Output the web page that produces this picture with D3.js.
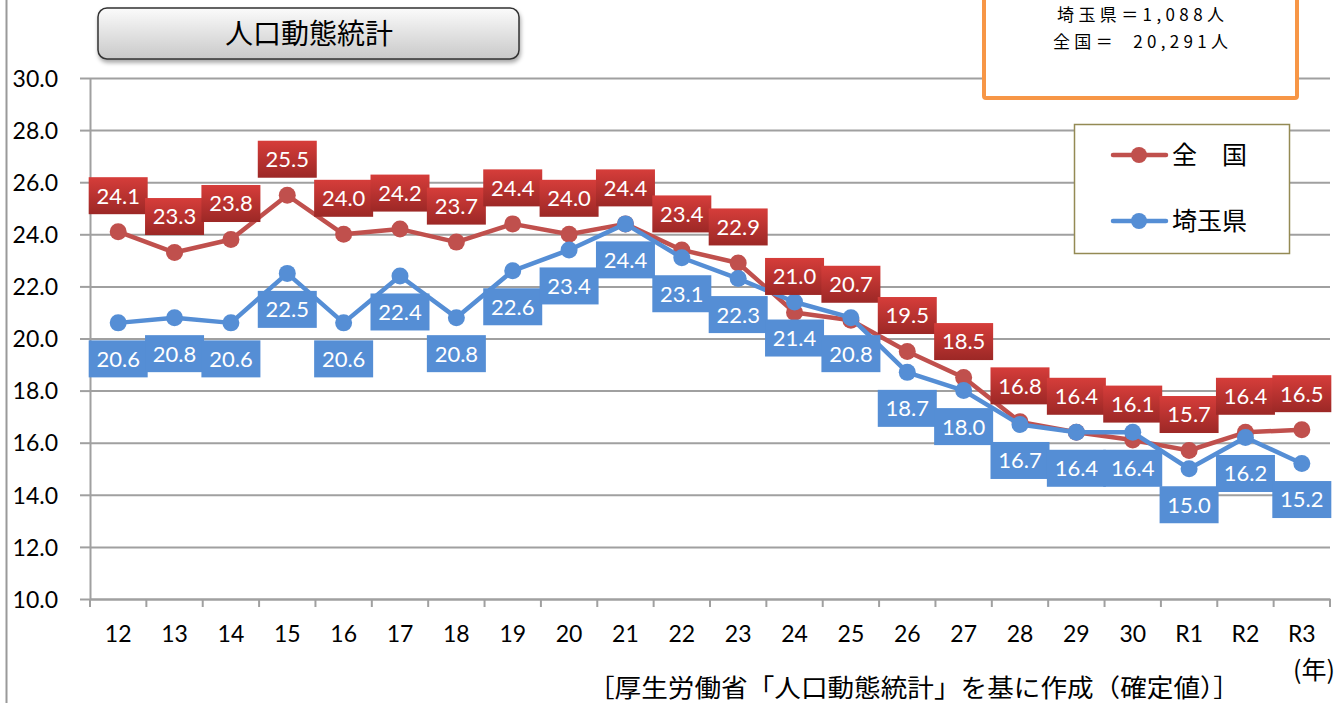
<!DOCTYPE html>
<html>
<head>
<meta charset="utf-8">
<script src="https://cdn.jsdelivr.net/npm/d3@7"></script>
<style>
  html, body { margin: 0; padding: 0; background: #fff; }
  svg { display: block; }
</style>
</head>
<body>
<div id="chart"></div>
<script>
// data
var years = ["12","13","14","15","16","17","18","19","20","21","22","23","24","25","26","27","28","29","30","R1","R2","R3"];
var zenkoku = [24.1,23.3,23.8,25.5,24.0,24.2,23.7,24.4,24.0,24.4,23.4,22.9,21.0,20.7,19.5,18.5,16.8,16.4,16.1,15.7,16.4,16.5];
var saitama = [20.6,20.8,20.6,22.5,20.6,22.4,20.8,22.6,23.4,24.4,23.1,22.3,21.4,20.8,18.7,18.0,16.7,16.4,16.4,15.0,16.2,15.2];
var yTicks = [10,12,14,16,18,20,22,24,26,28,30];

var W = 1340, H = 703;
var margin = {top: 78, right: 10, bottom: 104, left: 90};
var jp = "'Noto Sans CJK JP', sans-serif";
var num = "Lato, 'Open Sans', sans-serif";

var svg = d3.select("#chart").append("svg")
    .attr("width", W).attr("height", H);

var defs = svg.append("defs");

var gTitle = defs.append("linearGradient").attr("id", "gTitle")
    .attr("x1", 0).attr("y1", 0).attr("x2", 0).attr("y2", 1);
gTitle.append("stop").attr("offset", "0%").attr("stop-color", "#fbfbfb");
gTitle.append("stop").attr("offset", "100%").attr("stop-color", "#c9c9c9");

var gRed = defs.append("linearGradient").attr("id", "gRed")
    .attr("x1", 0).attr("y1", 0).attr("x2", 0).attr("y2", 1);
gRed.append("stop").attr("offset", "0%").attr("stop-color", "#d63d3a");
gRed.append("stop").attr("offset", "100%").attr("stop-color", "#9c2826");

var shadow = defs.append("filter").attr("id", "shadow")
    .attr("x", "-10%").attr("y", "-20%").attr("width", "120%").attr("height", "150%");
shadow.append("feDropShadow").attr("dx", 1).attr("dy", 3)
    .attr("stdDeviation", 2).attr("flood-color", "#000").attr("flood-opacity", 0.35);

// left frame line
svg.append("line").attr("x1", 6.5).attr("x2", 6.5).attr("y1", 0).attr("y2", H)
    .attr("stroke", "#9a9a9a").attr("stroke-width", 2);

var x = d3.scaleBand().domain(years)
    .range([margin.left, W - margin.right]);
var y = d3.scaleLinear().domain([10, 30])
    .range([H - margin.bottom, margin.top]);

// gridlines + y axis
var yAxis = svg.append("g")
    .attr("transform", "translate(" + margin.left + ",0)")
    .call(d3.axisLeft(y).tickValues(yTicks)
        .tickSize(-(W - margin.right - margin.left))
        .tickSizeOuter(0)
        .tickFormat(d3.format(".1f")));
yAxis.select(".domain").attr("stroke", "#a0a0a0").attr("stroke-width", 2);
yAxis.selectAll(".tick line").attr("stroke", "#a0a0a0").attr("stroke-width", 2);
yAxis.selectAll(".tick").append("line")
    .attr("x1", -10).attr("x2", 0).attr("stroke", "#a0a0a0").attr("stroke-width", 2);
yAxis.selectAll(".tick text")
    .attr("x", -32).attr("dy", "0.36em")
    .attr("font-family", num).attr("font-size", 23).attr("fill", "#000");

// x axis
var xAxis = svg.append("g")
    .attr("transform", "translate(0," + y(10) + ")")
    .call(d3.axisBottom(x).tickSize(0).tickSizeOuter(0));
xAxis.select(".domain").attr("stroke", "#a0a0a0").attr("stroke-width", 2);
xAxis.selectAll(".tick text").attr("y", 27)
    .attr("font-family", num).attr("font-size", 23).attr("fill", "#000");
var bounds = years.map(function(d){ return x(d); }).concat([x.range()[1]]);
xAxis.selectAll(".bnd").data(bounds).enter().append("line")
    .attr("x1", function(d){ return d; }).attr("x2", function(d){ return d; })
    .attr("y1", 0).attr("y2", 8)
    .attr("stroke", "#a0a0a0").attr("stroke-width", 2);

var cx = function(i){ return x(years[i]) + x.bandwidth() / 2; };
var line = d3.line()
    .x(function(d, i){ return cx(i); })
    .y(function(d){ return y(d); });

var series = [
    {name: "全　国", values: zenkoku, color: "#c0504d", off: -36, fill: "url(#gRed)"},
    {name: "埼玉県", values: saitama, color: "#558ed5", off: 36, fill: "#558ed5"}
];

series.forEach(function(s){
    svg.append("path").datum(s.values)
        .attr("d", line).attr("fill", "none")
        .attr("stroke", s.color).attr("stroke-width", 4.5)
        .attr("stroke-linejoin", "round");
    svg.selectAll(null).data(s.values).enter().append("circle")
        .attr("cx", function(d, i){ return cx(i); })
        .attr("cy", function(d){ return y(d); })
        .attr("r", 8.5).attr("fill", s.color);
});

// data labels
series.forEach(function(s){
    var lab = svg.selectAll(null).data(s.values).enter().append("g")
        .attr("transform", function(d, i){
            return "translate(" + cx(i) + "," + (y(d) + s.off) + ")";
        });
    lab.append("rect")
        .attr("x", -29.5).attr("y", -18.5).attr("width", 59).attr("height", 37)
        .attr("fill", s.fill);
    lab.append("text")
        .attr("text-anchor", "middle").attr("dy", "0.36em")
        .attr("font-family", num).attr("font-size", 22).attr("fill", "#fff")
        .text(function(d){ return d3.format(".1f")(d); });
});

// title box
svg.append("rect")
    .attr("x", 98).attr("y", 8).attr("width", 421).attr("height", 51)
    .attr("rx", 9).attr("fill", "url(#gTitle)")
    .attr("stroke", "#333").attr("stroke-width", 1.5)
    .attr("filter", "url(#shadow)");
svg.append("text").attr("x", 309).attr("y", 34).attr("dy", "0.36em")
    .attr("text-anchor", "middle")
    .attr("font-family", jp).attr("font-size", 28).attr("fill", "#000")
    .text("人口動態統計");

// orange note box
svg.append("rect")
    .attr("x", 984).attr("y", -10).attr("width", 313).attr("height", 108)
    .attr("rx", 2).attr("fill", "#fff")
    .attr("stroke", "#f79646").attr("stroke-width", 4);
svg.append("text").attr("x", 1057).attr("y", 15).attr("dy", "0.36em")
    .attr("textLength", 167).attr("lengthAdjust", "spacing")
    .attr("font-family", jp).attr("font-size", 17).attr("fill", "#000")
    .text("埼玉県＝1,088人");
svg.append("text").attr("x", 1053).attr("y", 42).attr("dy", "0.36em")
    .attr("xml:space", "preserve")
    .attr("textLength", 175).attr("lengthAdjust", "spacing")
    .attr("font-family", jp).attr("font-size", 17).attr("fill", "#000")
    .text("全国＝  20,291人");

// legend
var lg = svg.append("g");
lg.append("rect")
    .attr("x", 1074.5).attr("y", 124.5).attr("width", 215).attr("height", 129)
    .attr("fill", "#fff").attr("stroke", "#948a54").attr("stroke-width", 1.5);
series.forEach(function(s, i){
    var ly = 155 + i * 66;
    lg.append("line").attr("x1", 1113).attr("x2", 1166)
        .attr("y1", ly).attr("y2", ly)
        .attr("stroke", s.color).attr("stroke-width", 4.5).attr("stroke-linecap", "round");
    lg.append("circle").attr("cx", 1139).attr("cy", ly).attr("r", 8).attr("fill", s.color);
    lg.append("text").attr("x", 1172).attr("y", ly).attr("dy", "0.36em")
        .attr("font-family", jp).attr("font-size", 25).attr("fill", "#000")
        .text(s.name);
});

// unit + source
svg.append("text").attr("x", 1314).attr("y", 670).attr("dy", "0.36em")
    .attr("text-anchor", "middle")
    .attr("font-family", jp).attr("font-size", 25).attr("fill", "#000")
    .text("(年)");
svg.append("text").attr("x", 588).attr("y", 688).attr("dy", "0.36em")
    .attr("textLength", 652).attr("lengthAdjust", "spacingAndGlyphs")
    .attr("font-family", jp).attr("font-size", 25).attr("fill", "#000")
    .text("［厚生労働省「人口動態統計」を基に作成（確定値）］");
</script>
</body>
</html>
